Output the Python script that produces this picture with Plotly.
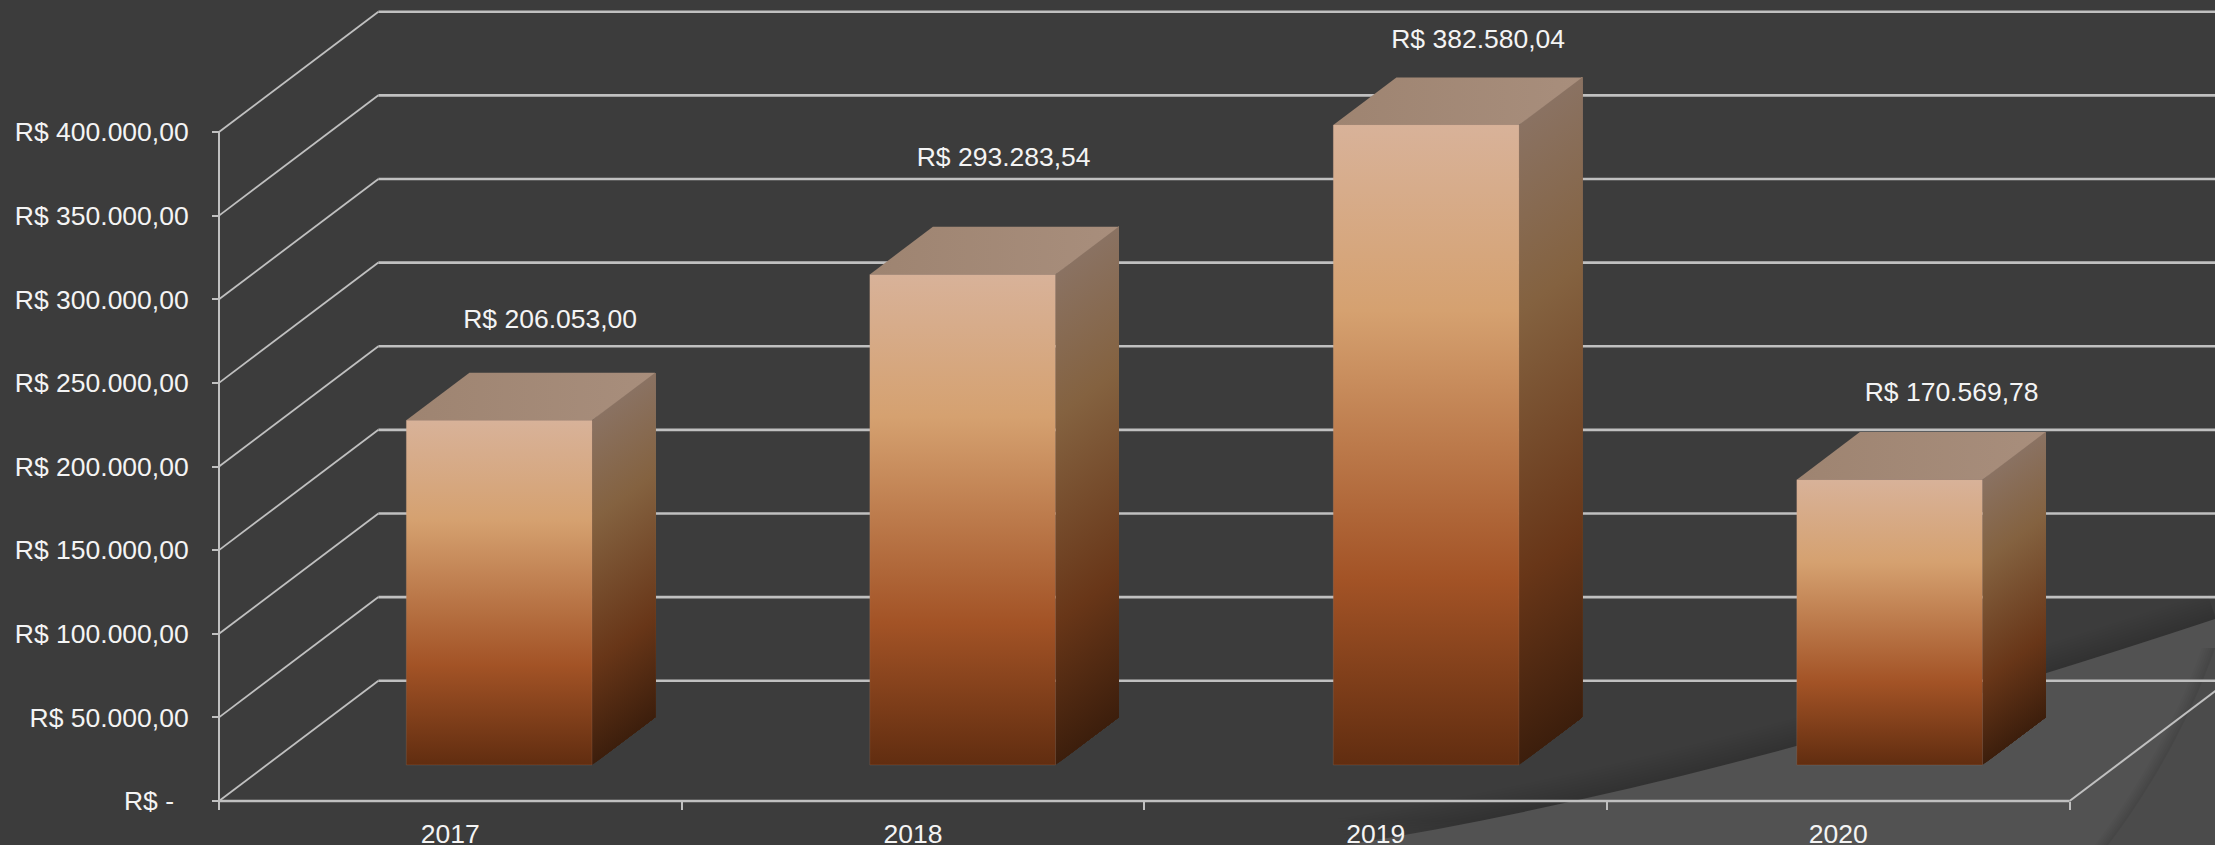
import plotly.graph_objects as go

# ---- data ----
categories = ["2017", "2018", "2019", "2020"]
values = [206053.00, 293283.54, 382580.04, 170569.78]
y_ticks = [0, 50000, 100000, 150000, 200000, 250000, 300000, 350000, 400000]
y_tick_labels = ["R$ -\u00a0\u00a0", "R$ 50.000,00", "R$ 100.000,00", "R$ 150.000,00", "R$ 200.000,00",
                 "R$ 250.000,00", "R$ 300.000,00", "R$ 350.000,00", "R$ 400.000,00"]

# ---- geometry of the oblique frame (axis units) ----
W, H = 2215, 845
X0_PX, Y0_PX = 219.0, 801.0          # origin of the front plane on the page
PX_PER_CAT = 462.65
PX_PER_VAL = (801 - 132) / 400000
DEPTH_X = 159.4 / PX_PER_CAT         # oblique shift of the back wall
DEPTH_Y = 120.3 / PX_PER_VAL
BAR_W = 0.4014
BAR_OFFSET = 0.0022                  # bars sit very slightly right of the category centres
BAR_PITCH = 1.0018
Z_FRONT, Z_BACK = 0.3, 0.696
N_CATS = len(categories)

label_dx_px = [51, 41, 52, 62]
label_dy_px = [50.5, 66.5, 35.5, 37.5]

FONT = "Liberation Sans, Arial, sans-serif"
FS = 26.5
TXT = "#f4f4f4"
GRID = "#c0c0c0"
BG = "#3c3c3c"

front_stops = [[0, "rgb(216,178,153)"], [0.29, "rgb(213,161,112)"],
               [0.71, "rgb(163,83,38)"], [1, "rgb(97,45,16)"]]
side_stops = [[0, "rgb(138,114,98)"], [0.29, "rgb(132,98,64)"],
              [0.71, "rgb(104,54,24)"], [1, "rgb(60,30,12)"]]


def proj(x, v, z):
    return x + z * DEPTH_X, v + z * DEPTH_Y


def poly(points):
    xs = [p[0] for p in points] + [points[0][0]]
    ys = [p[1] for p in points] + [points[0][1]]
    return xs, ys


def bar_centre(i):
    return 0.5 + BAR_OFFSET + i * BAR_PITCH


fig = go.Figure()


def line(xs, ys, width):
    fig.add_trace(go.Scatter(x=xs, y=ys, mode="lines", hoverinfo="skip", showlegend=False,
                             line=dict(color=GRID, width=width, simplify=False), cliponaxis=True))


# walls and floor
for t in y_ticks:
    a = proj(0, t, 0)
    b = proj(0, t, 1)
    c = proj(N_CATS, t, 1)
    line([a[0], b[0]], [a[1], b[1]], 1.8)
    line([b[0], c[0]], [b[1], c[1]], 2.6)
line([0, 0], [y_ticks[0], y_ticks[-1]], 2)
line([0, N_CATS], [0, 0], 2.6)
e = proj(N_CATS, 0, 1)
line([N_CATS, e[0]], [0, e[1]], 2)

# bars
N_STRIPS = 32
for i, v in enumerate(values):
    xl, xr = bar_centre(i) - BAR_W / 2, bar_centre(i) + BAR_W / 2
    # side face: sheared gradient, painted front to back in narrow strips
    for s in range(N_STRIPS):
        z = Z_FRONT + (Z_BACK - Z_FRONT) * s / N_STRIPS
        pts = [proj(xr, v, z), proj(xr, v, Z_BACK), proj(xr, 0, Z_BACK), proj(xr, 0, z)]
        xs, ys = poly(pts)
        fig.add_trace(go.Scatter(
            x=xs, y=ys, mode="none", fill="toself", hoverinfo="skip", showlegend=False,
            fillgradient=dict(type="vertical", colorscale=side_stops,
                              start=v + z * DEPTH_Y, stop=z * DEPTH_Y)))
    # top face
    xs, ys = poly([proj(xl, v, Z_FRONT), proj(xr, v, Z_FRONT), proj(xr, v, Z_BACK), proj(xl, v, Z_BACK)])
    fig.add_trace(go.Scatter(x=xs, y=ys, mode="none", fill="toself", hoverinfo="skip", showlegend=False,
                             fillgradient=dict(type="horizontal",
                                               colorscale=[[0, "rgb(158,132,113)"], [1, "rgb(168,142,124)"]])))
    # front face
    xs, ys = poly([proj(xl, v, Z_FRONT), proj(xr, v, Z_FRONT), proj(xr, 0, Z_FRONT), proj(xl, 0, Z_FRONT)])
    fig.add_trace(go.Scatter(x=xs, y=ys, mode="lines", fill="toself", hoverinfo="skip", showlegend=False,
                             line=dict(color="rgba(205,170,145,0.15)", width=1),
                             fillgradient=dict(type="vertical", colorscale=front_stops,
                                               start=v + Z_FRONT * DEPTH_Y, stop=Z_FRONT * DEPTH_Y)))

# value labels
lab_x, lab_y, lab_t = [], [], []
for i, v in enumerate(values):
    x, y = proj(bar_centre(i), v, 0.7)
    x0, _ = proj(bar_centre(i), v, Z_FRONT)
    lab_x.append(x0 + label_dx_px[i] / PX_PER_CAT)
    lab_y.append(y + label_dy_px[i] / PX_PER_VAL)
    lab_t.append("R$ " + f"{v:,.2f}".replace(",", "#").replace(".", ",").replace("#", "."))
fig.add_trace(go.Scatter(x=lab_x, y=lab_y, text=lab_t, mode="text", textposition="middle center",
                         hoverinfo="skip", showlegend=False, cliponaxis=False,
                         textfont=dict(family=FONT, size=FS, color=TXT)))


# background swooshes (page decoration)
def px(x):
    return x / W


def py(y):
    return 1 - y / H


def curve(p0, p1, p2, p3, close, dy=0.0, dx=0.0):
    pts = [p0, p1, p2, p3]
    pts = [(px(a + dx), py(b + dy)) for a, b in pts]
    d = f"M{pts[0][0]},{pts[0][1]} C{pts[1][0]},{pts[1][1]} {pts[2][0]},{pts[2][1]} {pts[3][0]},{pts[3][1]}"
    for a, b in close:
        d += f" L{px(a)},{py(b)}"
    return d + " Z"


shapes = []
A = ((1345, 845), (1635, 798.6), (1925, 714.7), (2215, 619))
for k in range(10, 0, -1):
    shapes.append(dict(type="path", xref="paper", yref="paper", layer="below", line=dict(width=0),
                       fillcolor="rgba(0,0,0,0.017)",
                       path=curve(*A, [(2300, 845)], dy=-k * 2.6, dx=-k * 0.8)))
shapes.append(dict(type="path", xref="paper", yref="paper", layer="below", line=dict(width=0),
                   fillcolor="#525252", path=curve(*A, [(2215, 845)])))
B = ((2108, 845), (2150, 790), (2190, 720), (2215, 648))
for k in range(6, 0, -1):
    shapes.append(dict(type="path", xref="paper", yref="paper", layer="below", line=dict(width=0),
                       fillcolor="rgba(0,0,0,0.022)",
                       path=curve(*B, [(2300, 648), (2300, 845)], dx=-k * 2.2)))
shapes.append(dict(type="path", xref="paper", yref="paper", layer="below", line=dict(width=0),
                   fillcolor="#4b4b4b", path=curve(*B, [(2215, 845)])))

fig.update_layout(
    width=W, height=H, autosize=False,
    margin=dict(l=0, r=0, t=0, b=0, pad=0),
    paper_bgcolor=BG, plot_bgcolor="rgba(0,0,0,0)",
    showlegend=False, shapes=shapes,
    font=dict(family=FONT, size=FS, color=TXT),
    xaxis=dict(
        range=[-X0_PX / PX_PER_CAT, (W - X0_PX) / PX_PER_CAT], domain=[0, 1],
        anchor="free", position=(H - Y0_PX) / H, automargin=False,
        showgrid=False, zeroline=False, showline=False,
        tickmode="array", tickvals=[i + 0.5 for i in range(N_CATS)], ticktext=categories,
        ticks="", ticklen=0, ticklabelstandoff=14,
        tickfont=dict(family=FONT, size=FS, color=TXT),
        minor=dict(tickmode="array", tickvals=list(range(N_CATS + 1)), ticks="outside", ticklen=8,
                   tickwidth=1.5, tickcolor=GRID, showgrid=False),
    ),
    yaxis=dict(
        range=[-(H - Y0_PX) / PX_PER_VAL, Y0_PX / PX_PER_VAL], domain=[0, 1],
        anchor="free", position=X0_PX / W, automargin=False,
        showgrid=False, zeroline=False, showline=False,
        tickmode="array", tickvals=y_ticks, ticktext=y_tick_labels,
        ticks="outside", ticklen=7, tickwidth=1.5, tickcolor=GRID, ticklabelstandoff=18,
        tickfont=dict(family=FONT, size=FS, color=TXT),
    ),
)

fig.write_html("out.html", config={"displayModeBar": False},
               post_script="document.body.style.margin='0';document.body.style.overflow='hidden';")
